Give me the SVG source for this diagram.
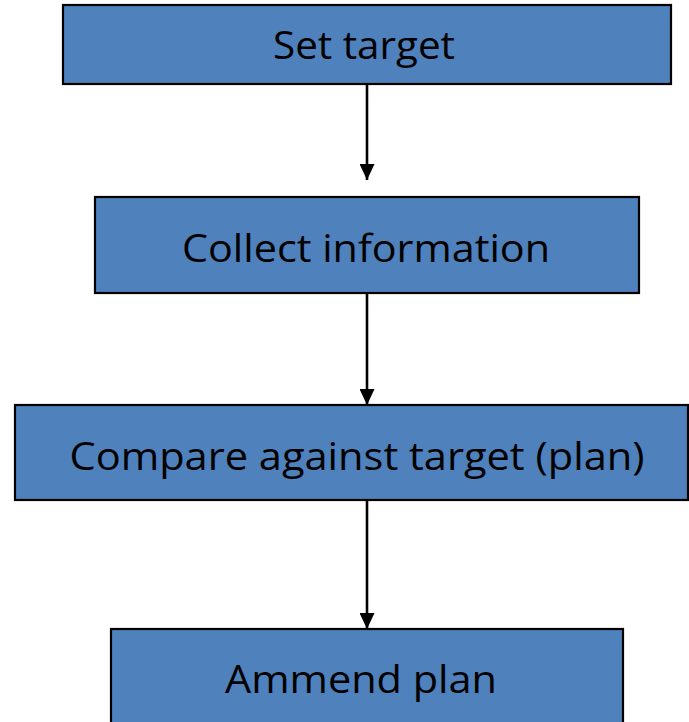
<svg xmlns="http://www.w3.org/2000/svg" width="689" height="722" viewBox="0 0 689 722">
  <style>
    .box { fill: #4F81BD; stroke: #000000; stroke-width: 2.2; }
    .label { font-family: "Open Sans", "Noto Sans", "Liberation Sans", sans-serif; font-size: 37.5px; fill: #000000; text-anchor: middle; }
    .link { stroke: #000000; stroke-width: 2.6; fill: none; }
  </style>
  <defs>
    <marker id="arrow" viewBox="0 0 16 15" refX="16" refY="7.5" markerWidth="16" markerHeight="15" markerUnits="userSpaceOnUse" orient="auto">
      <path d="M0,0 L16,7.5 L0,15 Z" fill="#000000"/>
    </marker>
  </defs>
  <rect width="689" height="722" fill="#ffffff"/>

  <!-- vertical flow arrows between the steps -->
  <g id="connectors">
    <line class="link" x1="367" y1="85" x2="367" y2="180" marker-end="url(#arrow)"/>
    <line class="link" x1="367" y1="294" x2="367" y2="405" marker-end="url(#arrow)"/>
    <line class="link" x1="367" y1="501" x2="367" y2="629" marker-end="url(#arrow)"/>
  </g>

  <g id="set-target">
    <rect class="box" x="63" y="5" width="608" height="79"/>
    <text class="label" x="364" y="59" textLength="182" lengthAdjust="spacingAndGlyphs">Set target</text>
  </g>

  <g id="collect-information">
    <rect class="box" x="95" y="197" width="544" height="96"/>
    <text class="label" x="366" y="262" textLength="368" lengthAdjust="spacingAndGlyphs">Collect information</text>
  </g>

  <g id="compare-against-target">
    <rect class="box" x="15" y="405" width="673" height="95"/>
    <text class="label" x="357" y="470" textLength="575" lengthAdjust="spacingAndGlyphs">Compare against target (plan)</text>
  </g>

  <g id="ammend-plan">
    <rect class="box" x="111" y="629" width="512" height="100"/>
    <text class="label" x="361" y="693" textLength="272" lengthAdjust="spacingAndGlyphs">Ammend plan</text>
  </g>
</svg>
